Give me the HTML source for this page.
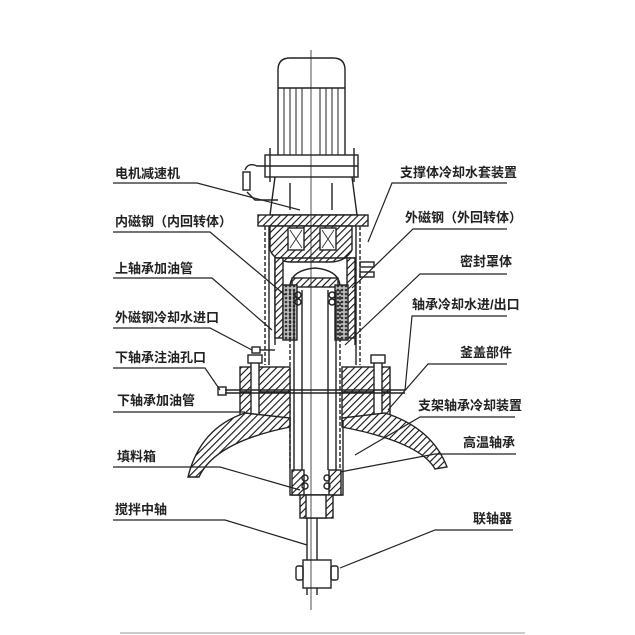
<!DOCTYPE html>
<html><head><meta charset="utf-8"><style>
html,body{margin:0;padding:0;background:#fff;}
svg{display:block}
text{font-family:"Liberation Sans","Noto Sans CJK SC",sans-serif;font-size:13px;font-weight:bold;fill:#222}
</style></head><body>
<svg width="635" height="635" viewBox="0 0 635 635" xmlns="http://www.w3.org/2000/svg">
<defs>
<pattern id="h" patternUnits="userSpaceOnUse" width="5" height="5" patternTransform="rotate(45)">
<rect width="5" height="5" fill="#fff"/><line x1="0" y1="0" x2="0" y2="5" stroke="#111" stroke-width="2.2"/></pattern>
<pattern id="m" patternUnits="userSpaceOnUse" width="4" height="4">
<rect width="4" height="4" fill="#bbb"/><circle cx="2" cy="2" r="1.3" fill="#333"/></pattern>
</defs>
<g stroke="#222" fill="none" stroke-width="1.4">
<path d="M278 155 V70 Q278 58 290 58 H333 Q345 58 345 70 V155" fill="#fff"/>
<line x1="278" y1="88" x2="345" y2="88"/>
<g stroke-width="1">
<line x1="284" y1="88" x2="284" y2="155"/><line x1="290" y1="88" x2="290" y2="155"/><line x1="296" y1="88" x2="296" y2="155"/><line x1="302" y1="88" x2="302" y2="155"/><line x1="320" y1="88" x2="320" y2="155"/><line x1="326" y1="88" x2="326" y2="155"/><line x1="332" y1="88" x2="332" y2="155"/><line x1="338" y1="88" x2="338" y2="155"/>
</g>
<rect x="265" y="155" width="93" height="22" fill="#fff"/>
<line x1="265" y1="166" x2="358" y2="166"/>
<line x1="270" y1="148" x2="270" y2="182"/><line x1="354" y1="148" x2="354" y2="182"/>
<path d="M275 177 L270 215 H357 L352 177"/>
<line x1="290" y1="183" x2="290" y2="210"/><line x1="332" y1="183" x2="332" y2="210"/>
<path d="M245 170 Q248 162 257 166 L265 166"/><rect x="243" y="172" width="7" height="18"/><path d="M247 192 L255 200 H278"/>
<rect x="258" y="215" width="110" height="11" fill="url(#h)"/>
<path d="M270 226 H352 V250 Q345 262 330 262 H292 Q275 262 270 250 Z" fill="url(#h)"/>
<rect x="288" y="228" width="16" height="22" fill="#fff"/><rect x="320" y="228" width="16" height="22" fill="#fff"/>
<path d="M290 230 L302 248 M302 230 L290 248 M322 230 L334 248 M334 230 L322 248" stroke-width="0.8"/>
<line x1="265" y1="226" x2="265" y2="365" stroke-dasharray="4 2"/><line x1="269" y1="226" x2="269" y2="365"/>
<line x1="360" y1="226" x2="360" y2="365" stroke-dasharray="4 2"/><line x1="356" y1="226" x2="356" y2="365"/>
<path d="M275 345 V258 H355 V345" />
<rect x="275" y="258" width="8" height="80" fill="url(#h)"/><rect x="347" y="258" width="8" height="80" fill="url(#h)"/>
<path d="M290 300 V285 Q292 270 315 268 Q338 270 340 285 V300"/>
<rect x="292" y="278" width="46" height="9" fill="url(#h)"/>
<rect x="283" y="285" width="14" height="55" fill="url(#m)"/><rect x="335" y="285" width="13" height="55" fill="url(#m)"/>
<line x1="290" y1="290" x2="290" y2="470" stroke-dasharray="4 2"/><line x1="294" y1="290" x2="294" y2="470"/>
<line x1="340" y1="290" x2="340" y2="470" stroke-dasharray="4 2"/><line x1="336" y1="290" x2="336" y2="470"/>
<line x1="302" y1="290" x2="302" y2="470"/><line x1="328" y1="290" x2="328" y2="470"/>
<circle cx="298" cy="295" r="3"/><circle cx="332" cy="295" r="3"/><circle cx="298" cy="302" r="3"/><circle cx="332" cy="302" r="3"/>
<rect x="360" y="262" width="14" height="5"/><rect x="360" y="272" width="14" height="5"/>
<rect x="252" y="347" width="8" height="6"/><line x1="260" y1="350" x2="275" y2="350"/>
<rect x="240" y="367" width="50" height="25" fill="url(#h)"/><rect x="342" y="367" width="48" height="25" fill="url(#h)"/>
<rect x="240" y="392" width="50" height="28" fill="url(#h)"/><rect x="342" y="392" width="48" height="28" fill="url(#h)"/>
<rect x="251" y="360" width="8" height="58" fill="#fff"/><rect x="374" y="360" width="8" height="58" fill="#fff"/>
<rect x="248" y="355" width="14" height="8" fill="#fff"/><rect x="371" y="355" width="14" height="8" fill="#fff"/>
<line x1="225" y1="390" x2="405" y2="390"/><line x1="225" y1="393" x2="405" y2="393"/>
<rect x="218" y="387" width="8" height="8"/>
<path d="M245 413 Q200 428 188 477 L199 477 Q215 442 290 427 L290 418 Z" fill="url(#h)"/>
<path d="M385 413 Q432 428 447 467 L435 469 Q420 442 342 427 L342 418 Z" fill="url(#h)"/>
<path d="M290 420 V495 H343 V420"/>
<rect x="292" y="470" width="12" height="25" fill="url(#h)"/><rect x="329" y="470" width="12" height="25" fill="url(#h)"/>
<circle cx="305" cy="478" r="3"/><circle cx="327" cy="478" r="3"/><circle cx="305" cy="486" r="3"/><circle cx="327" cy="486" r="3"/>
<rect x="300" y="495" width="33" height="23" fill="url(#h)"/><rect x="306" y="495" width="20" height="23" fill="#fff"/>
<line x1="307" y1="518" x2="307" y2="560"/><line x1="317" y1="518" x2="317" y2="560"/>
<rect x="303" y="560" width="28" height="28" fill="#fff"/>
<rect x="296" y="566" width="7" height="14" rx="2"/><rect x="331" y="566" width="7" height="14" rx="2"/>
<line x1="307" y1="588" x2="307" y2="595"/><line x1="317" y1="588" x2="317" y2="595"/>
<line x1="311" y1="50" x2="311" y2="610" stroke-width="0.8"/>
</g>
<g stroke="#222" fill="none" stroke-width="1.2">
<path d="M113 183 H197 L300 210"/>
<path d="M113 232 H210 L285 295"/>
<path d="M113 278 H212 L272 330"/>
<path d="M113 328 H210 L252 350"/>
<path d="M113 368 H205 L220 390"/>
<path d="M113 412 H215 L245 412"/>
<path d="M113 467 H220 L300 490"/>
<path d="M113 520 H225 L307 545"/>
<path d="M507 183 H392 L368 242"/>
<path d="M507 229 H413 L352 288"/>
<path d="M507 274 H420 L345 345"/>
<path d="M507 316 H412 L405 390"/>
<path d="M507 364 H428 L388 410"/>
<path d="M515 417 H420 L355 455"/>
<path d="M516 454 H435 L340 472"/>
<path d="M513 530 H435 L340 568"/>
<line x1="120" y1="633" x2="525" y2="633" stroke="#999" stroke-width="1"/>
</g>
<g>
<text x="115" y="178">电机减速机</text>
<text x="115" y="226">内磁钢（内回转体）</text>
<text x="115" y="273">上轴承加油管</text>
<text x="115" y="322">外磁钢冷却水进口</text>
<text x="115" y="362">下轴承注油孔口</text>
<text x="117" y="405">下轴承加油管</text>
<text x="117" y="461">填料箱</text>
<text x="115" y="514">搅拌中轴</text>
<text x="400" y="177">支撑体冷却水套装置</text>
<text x="405" y="222">外磁钢（外回转体）</text>
<text x="460" y="266">密封罩体</text>
<text x="412" y="309">轴承冷却水进/出口</text>
<text x="460" y="357">釜盖部件</text>
<text x="418" y="410">支架轴承冷却装置</text>
<text x="463" y="447">高温轴承</text>
<text x="473" y="523">联轴器</text>
</g>
</svg>
</body></html>
